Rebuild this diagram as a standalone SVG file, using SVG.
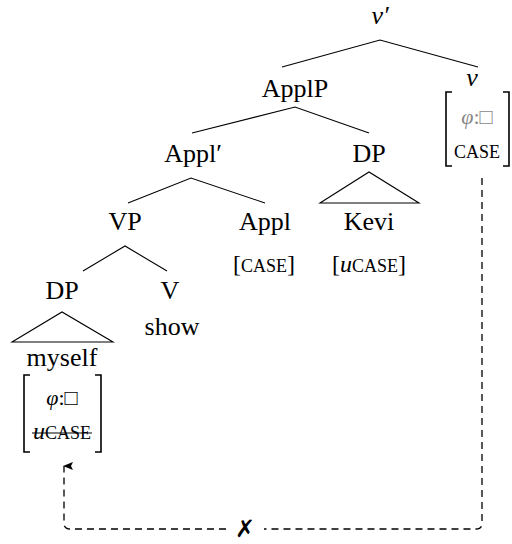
<svg xmlns="http://www.w3.org/2000/svg" width="512" height="544" viewBox="0 0 512 544">
<style>
text,tspan{font-family:"Liberation Serif","DejaVu Serif",serif}
text{fill:#000;text-anchor:middle}
.lbl{font-size:26px}
.it{font-style:italic}
.sc{font-size:18px}
.gray{fill:#888}
.br{fill:none;stroke:#000;stroke-width:1.6}
.edge{fill:none;stroke:#000;stroke-width:1.1}
.dash{fill:none;stroke:#000;stroke-width:1.3;stroke-dasharray:7,5}
</style>
<defs>
<marker id="ah" viewBox="0 0 8 10" refX="4" refY="1" markerWidth="8" markerHeight="10" orient="auto-start-reverse" markerUnits="userSpaceOnUse">
<path d="M0,10 L4,0 L8,10 L4,8 Z" fill="#000"/>
</marker>
</defs>
<g id="connectors">
<path class="edge" d="M282,67 L380,40 L478,67"/>
<path class="edge" d="M192,133 L295,107 L369,133"/>
<path class="edge" d="M128,203 L191,178 L265,203"/>
<path class="edge" d="M83,271 L125,246 L167,271"/>
<path class="edge" d="M320,203 L369,172 L419,203 Z"/>
<path class="edge" d="M12,342 L62,312 L113,342 Z"/>
<path class="dash" d="M482,178 L482,523 Q482,529 476,529 L264,529"/>
<path class="dash" d="M226,529 L70,529 Q64,529 64,523 L64,466" marker-end="url(#ah)"/>
</g>
<g id="vbar"><text class="lbl it" x="380" y="24">v′</text></g>
<g id="applP"><text class="lbl" x="295" y="97">ApplP</text></g>
<g id="v">
<text class="lbl it" x="472" y="86">v</text>
<path class="br" d="M452,92 L446,92 L446,166 L452,166"/>
<path class="br" d="M503,92 L509,92 L509,166 L503,166"/>
<text class="gray" x="477" y="124" style="font-size:22px"><tspan class="it">φ</tspan>:□</text>
<text class="sc" x="477" y="158">CASE</text>
</g>
<g id="applBar"><text class="lbl" x="193" y="162">Appl′</text></g>
<g id="dp1"><text class="lbl" x="369" y="162">DP</text></g>
<g id="vp"><text class="lbl" x="125" y="230">VP</text></g>
<g id="appl">
<text class="lbl" x="265" y="230">Appl</text>
<text x="264" y="272" style="font-size:24px">[<tspan class="sc">CASE</tspan>]</text>
</g>
<g id="kevi">
<text class="lbl" x="369" y="230">Kevi</text>
<text x="369" y="272" style="font-size:24px">[<tspan class="it">u</tspan><tspan class="sc">CASE</tspan>]</text>
</g>
<g id="dp2"><text class="lbl" x="62" y="299">DP</text></g>
<g id="verb">
<text class="lbl" x="170" y="299">V</text>
<text class="lbl" x="172" y="335">show</text>
</g>
<g id="myself">
<text class="lbl" x="62" y="366">myself</text>
<path class="br" d="M30,375 L24,375 L24,452 L30,452"/>
<path class="br" d="M95,375 L101,375 L101,452 L95,452"/>
<text x="62" y="405" style="font-size:22px"><tspan class="it">φ</tspan>:□</text>
<text x="62" y="439" style="font-size:18px"><tspan class="it" style="font-size:24px">u</tspan><tspan>CASE</tspan></text>
<line x1="32" y1="433" x2="92" y2="433" stroke="#000" stroke-width="1.1"/>
</g>
<g id="cross"><text x="245" y="537" style="font-family:'DejaVu Sans',sans-serif;font-size:24px;font-weight:bold">✗</text></g>
</svg>
